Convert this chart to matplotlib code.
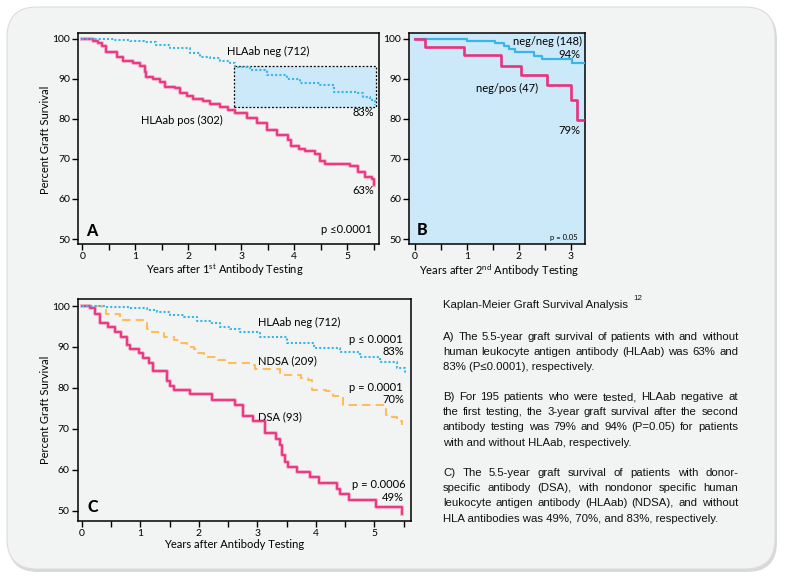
import matplotlib
matplotlib.use("Agg")
import matplotlib.pyplot as plt
from matplotlib.patches import FancyBboxPatch, Rectangle
from matplotlib.ticker import MultipleLocator

# ---- values ----
# panel A: years after 1st testing / percent graft survival
a_pos_t = [0, 0.21, 0.30, 0.37, 0.45, 0.65, 0.77, 0.96, 1.09, 1.18, 1.21, 1.34, 1.47,
           1.56, 1.75, 1.84, 1.97, 2.09, 2.28, 2.41, 2.60, 2.75, 2.88, 3.10, 3.29, 3.48,
           3.67, 3.88, 3.93, 4.08, 4.20, 4.39, 4.49, 4.58, 5.05, 5.20, 5.33, 5.47, 5.50]
a_pos_v = [100, 99.6, 98.9, 98.3, 96.7, 95.4, 94.6, 94.1, 93.3, 91.8, 90.6, 89.9, 89.2,
           87.9, 87.7, 86.4, 85.8, 85.0, 84.4, 83.7, 82.9, 82.3, 81.6, 80.3, 78.9, 77.3,
           76.0, 74.8, 73.2, 72.4, 72.0, 71.3, 69.4, 68.8, 68.2, 66.7, 65.6, 64.9, 63.5]
a_neg_t = [0, 0.3, 0.6, 0.9, 1.16, 1.40, 1.65, 2.03, 2.22, 2.41, 2.60, 2.79, 2.88, 3.17,
           3.48, 3.86, 4.11, 4.49, 4.74, 5.18, 5.30, 5.42, 5.52]
a_neg_v = [100, 99.9, 99.7, 99.5, 99.3, 98.5, 97.7, 96.4, 95.6, 95.2, 94.5, 93.9, 93.1, 92.3,
           91.0, 90.0, 88.9, 88.5, 86.8, 86.6, 85.6, 84.8, 83.5]
a_box = (2.87, 5.55, 83.0, 93.3)  # highlighted region: x0, x1, y0, y1

# panel B: years after 2nd testing
b_pos_t = [0, 0.20, 0.95, 1.65, 2.04, 2.54, 3.00, 3.13, 3.23]
b_pos_v = [100, 98.1, 96.0, 93.3, 91.0, 88.5, 84.8, 79.8, 79.8]
b_neg_t = [0, 1.00, 1.55, 1.71, 1.82, 1.93, 2.30, 2.44, 3.02, 3.27]
b_neg_v = [100, 99.5, 98.9, 98.3, 97.5, 96.7, 95.8, 94.9, 93.9, 93.9]

# panel C: years after antibody testing
c_dsa_t = [0, 0.14, 0.23, 0.31, 0.44, 0.57, 0.67, 0.78, 0.83, 0.97, 1.05, 1.14, 1.21, 1.45,
           1.50, 1.57, 1.85, 2.22, 2.62, 2.76, 2.93, 3.13, 3.32, 3.39, 3.42, 3.47, 3.53,
           3.67, 3.90, 4.06, 4.36, 4.42, 4.57, 5.03, 5.47]
c_dsa_v = [100, 99.4, 98.0, 95.8, 94.8, 93.7, 92.5, 90.5, 89.4, 88.4, 87.2, 86.1, 84.1, 81.7,
           80.5, 79.5, 78.4, 77.0, 75.8, 73.2, 71.8, 69.0, 67.4, 66.0, 63.6, 61.9, 60.7,
           59.5, 58.3, 56.8, 55.2, 54.0, 52.6, 50.9, 49.1]
c_ndsa_t = [0, 0.34, 0.42, 0.65, 1.05, 1.11, 1.20, 1.40, 1.57, 1.68, 1.79, 1.91, 1.99, 2.08,
            2.33, 2.45, 2.90, 2.96, 3.39, 3.75, 3.87, 3.93, 4.18, 4.30, 4.47, 5.19, 5.30,
            5.38, 5.47]
c_ndsa_v = [100, 99.4, 98.0, 96.6, 95.8, 94.5, 93.7, 92.5, 91.7, 90.9, 90.1, 89.4, 88.4, 87.6,
            86.8, 86.0, 85.6, 84.5, 83.1, 82.5, 81.9, 79.6, 79.3, 78.0, 75.8, 73.4, 72.8,
            72.0, 70.9]
c_neg_t = [0, 0.4, 0.83, 1.11, 1.28, 1.51, 1.74, 1.97, 2.19, 2.36, 2.54, 2.71, 3.05, 3.50,
           3.96, 4.42, 4.76, 5.10, 5.38, 5.53]
c_neg_v = [100, 99.7, 99.4, 99.0, 98.6, 97.8, 97.2, 96.4, 95.8, 94.9, 94.5, 93.7, 92.5, 90.9,
           89.7, 88.8, 87.6, 86.4, 84.8, 83.5]

title_txt = "Kaplan-Meier Graft Survival Analysis"
para_a = ["A) The 5.5-year graft survival of patients with and without",
          "human leukocyte antigen antibody (HLAab) was 63% and",
          "83% (P\u22640.0001), respectively."]
para_b = ["B) For 195 patients who were tested, HLAab negative at",
          "the first testing, the 3-year graft survival after the second",
          "antibody testing was 79% and 94% (P=0.05) for patients",
          "with and without HLAab, respectively."]
para_c = ["C) The 5.5-year graft survival of patients with donor-",
          "specific antibody (DSA), with nondonor specific human",
          "leukocyte antigen antibody (HLAab) (NDSA), and without",
          "HLA antibodies was 49%, 70%, and 83%, respectively."]

W, H = 788, 581
plt.rcParams['font.family'] = ['Lato', 'DejaVu Sans']
plt.rcParams['mathtext.fontset'] = 'custom'
plt.rcParams['mathtext.rm'] = 'Lato'

PINK = '#e8327c'
HALO = '#f5a6c5'
BLUE = '#3ab5e9'
ORANGE = '#fdbd5c'
CARD = '#f2f4f3'
LIGHTBLUE = '#cce9f9'

fig = plt.figure(figsize=(W / 100, H / 100), dpi=100)
fig.patch.set_facecolor('white')

# background card, drawn in pixel coordinates
bg = fig.add_axes([0, 0, 1, 1], zorder=-5)
bg.set_xlim(0, W)
bg.set_ylim(H, 0)
bg.axis('off')
bg.add_patch(FancyBboxPatch((8, 9), 769, 563, boxstyle="round,pad=0,rounding_size=30",
                            fc='#d9d9d9', ec='none'))
bg.add_patch(FancyBboxPatch((7, 7), 768, 562, boxstyle="round,pad=0,rounding_size=30",
                            fc=CARD, ec='#dcdcdc', lw=0.8))


def px_axes(l, t, r, b):
    return fig.add_axes([l / W, 1 - b / H, (r - l) / W, (b - t) / H])


def style(ax, xlim, ylim, face='none'):
    ax.set_facecolor(face)
    ax.set_xlim(*xlim)
    ax.set_ylim(*ylim)
    ax.xaxis.set_major_locator(MultipleLocator(1))
    ax.xaxis.set_minor_locator(MultipleLocator(0.5))
    ax.yaxis.set_major_locator(MultipleLocator(10))
    ax.tick_params(which='both', direction='out', length=4.5, width=1, labelsize=7.5,
                   pad=1.2, colors='black')
    for s in ax.spines.values():
        s.set_linewidth(1.1)


def pink_step(ax, t, v, lw=1.3):
    ax.step(t, v, where='post', color=HALO, lw=lw + 1.4, zorder=3)
    ax.step(t, v, where='post', color=PINK, lw=lw, zorder=4)


lab = dict(fontsize=8, color='black')

# ---- panel A ----
axA = px_axes(78, 33, 379, 244)
style(axA, (-0.081, 5.598), (48.75, 101.5))
x0, x1, y0, y1 = a_box
axA.add_patch(Rectangle((x0, y0), x1 - x0, y1 - y0, fc=LIGHTBLUE, ec='black',
                        ls=(0, (1.5, 1.5)), lw=0.9, zorder=1))
axA.step(a_neg_t, a_neg_v, where='post', color=BLUE, lw=1.5, ls=(0, (1, 1)), zorder=5)
pink_step(axA, a_pos_t, a_pos_v)
axA.text(3.50, 97.0, "HLAab neg (712)", ha='center', va='center', **lab)
axA.text(5.50, 81.6, "83%", ha='right', va='center', **lab)
axA.text(1.88, 79.75, "HLAab pos (302)", ha='center', va='center', **lab)
axA.text(5.50, 62.0, "63%", ha='right', va='center', **lab)
axA.text(5.46, 52.4, "p \u22640.0001", ha='right', va='center', **lab)
axA.text(0.07, 52.0, "A", ha='left', va='center', fontsize=11.5, fontweight='black')

# ---- panel B ----
axB = px_axes(409, 33, 585, 244)
style(axB, (-0.11, 3.275), (48.75, 101.5), face=LIGHTBLUE)
axB.step(b_neg_t, b_neg_v, where='post', color=BLUE, lw=1.6, zorder=3)
axB.step(b_pos_t, b_pos_v, where='post', color=PINK, lw=1.9, zorder=4)
axB.text(3.22, 99.5, "neg/neg (148)", ha='right', va='center', **lab)
axB.text(3.18, 96.1, "94%", ha='right', va='center', **lab)
axB.text(1.78, 87.75, "neg/pos (47)", ha='center', va='center', **lab)
axB.text(3.18, 77.0, "79%", ha='right', va='center', **lab)
axB.text(3.14, 50.5, "p = 0.05", ha='right', va='center', fontsize=5.5)
axB.text(0.04, 52.2, "B", ha='left', va='center', fontsize=11.5, fontweight='black')

# ---- panel C ----
axC = px_axes(77.7, 299.3, 410.7, 521)
style(axC, (-0.07, 5.62), (47.48, 101.64))
axC.step(c_neg_t, c_neg_v, where='post', color=BLUE, lw=1.5, ls=(0, (1, 1)), zorder=5)
axC.step(c_ndsa_t, c_ndsa_v, where='post', color=ORANGE, lw=1.5, ls=(0, (4, 2.5)), zorder=4)
pink_step(axC, c_dsa_t, c_dsa_v)
axC.text(3.01, 96.1, "HLAab neg (712)", ha='left', va='center', **lab)
axC.text(5.49, 91.9, "p \u2264 0.0001", ha='right', va='center', **lab)
axC.text(5.51, 88.8, "83%", ha='right', va='center', **lab)
axC.text(3.01, 86.6, "NDSA (209)", ha='left', va='center', **lab)
axC.text(5.49, 80.1, "p = 0.0001", ha='right', va='center', **lab)
axC.text(5.51, 77.2, "70%", ha='right', va='center', **lab)
axC.text(3.01, 72.9, "DSA (93)", ha='left', va='center', **lab)
axC.text(5.53, 56.5, "p = 0.0006", ha='right', va='center', **lab)
axC.text(5.51, 53.3, "49%", ha='right', va='center', **lab)
axC.text(0.09, 50.8, "C", ha='left', va='center', fontsize=11.5, fontweight='black')

# axis titles in pixel coordinates
ax_lab = dict(fontsize=8, ha='center', va='center')
bg.text(46, 140, "Percent Graft Survival", rotation=90, **ax_lab)
bg.text(46, 410, "Percent Graft Survival", rotation=90, **ax_lab)
bg.text(225, 270, "Years after 1$^{\\mathrm{st}}$ Antibody Testing", **ax_lab)
bg.text(499, 271, "Years after 2$^{\\mathrm{nd}}$ Antibody Testing", **ax_lab)
bg.text(234, 545, "Years after Antibody Testing", **ax_lab)

# ---- right-hand text block, justified by hand ----
tfont = dict(family=['Liberation Sans', 'DejaVu Sans'], fontsize=8.2, color='#111111',
             va='center', ha='left')
renderer = fig.canvas.get_renderer()
LX, RX, DY = 443, 738, 15.2


def paragraph(lines, ytop):
    for i, line in enumerate(lines):
        y = ytop + i * DY
        if i == len(lines) - 1:
            bg.text(LX, y, line, **tfont)
            continue
        words = line.split(' ')
        objs = [bg.text(0, y, w, **tfont) for w in words]
        widths = [o.get_window_extent(renderer).width for o in objs]
        gap = (RX - LX - sum(widths)) / (len(words) - 1)
        x = LX
        for o, w in zip(objs, widths):
            o.set_x(x)
            x += w + gap


t = bg.text(LX, 305, title_txt, **tfont)
tw = t.get_window_extent(renderer).width
bg.text(LX + tw + 5, 299, "12", family=['Liberation Sans', 'DejaVu Sans'], fontsize=5.8,
        va='center', ha='left', color='#111111')
paragraph(para_a, 337)
paragraph(para_b, 397)
paragraph(para_c, 473)

fig.savefig("out.png", dpi=100, facecolor=fig.get_facecolor())
